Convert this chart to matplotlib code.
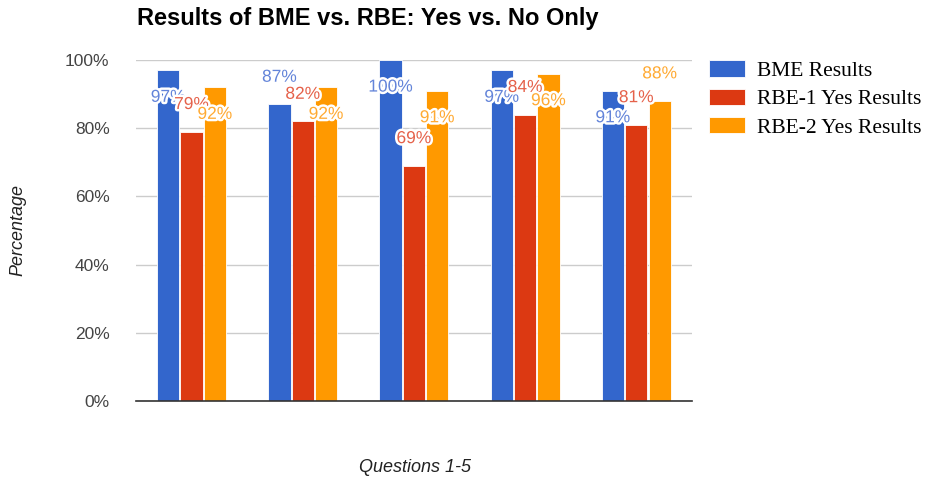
import numpy as np
import matplotlib.pyplot as plt
import matplotlib.patheffects as pe

questions = ["Q1", "Q2", "Q3", "Q4", "Q5"]
series = ["BME Results", "RBE-1 Yes Results", "RBE-2 Yes Results"]
bme = [97, 87, 100, 97, 91]
rbe1 = [79, 82, 69, 84, 81]
rbe2 = [92, 92, 91, 96, 88]

colors = ["#3366CC", "#DC3912", "#FF9900"]
label_colors = ["#6384D9", "#E5614A", "#FFAA33"]
# where each value label sits: -1 inside the bar top, +1 above the bar
placement = [[-1, 1, -1, -1, -1],
             [1, 1, 1, 1, 1],
             [-1, -1, -1, -1, 1]]

fig = plt.figure(figsize=(9.25, 4.8), dpi=100)
ax = fig.add_axes([0.147, 0.1646, 0.601, 0.7104])

x = np.arange(len(questions))
width = 0.2
step = 0.21
halo = [pe.withStroke(linewidth=3.5, foreground="white")]

for i, vals in enumerate([bme, rbe1, rbe2]):
    pos = x + (i - 1) * step
    ax.bar(pos, vals, width, color=colors[i], edgecolor="white", linewidth=0.6,
           label=series[i], zorder=3)
    for j, v in enumerate(vals):
        ax.annotate(f"{v}%", (pos[j], v), xytext=(0, 19.5 * placement[i][j]),
                    textcoords="offset points", ha="center", va="center",
                    fontsize=12.5, family="Liberation Sans", color=label_colors[i],
                    path_effects=halo, zorder=5)

ax.set_xlim(-0.5, 4.5)
ax.set_ylim(0, 100)
ax.set_yticks(range(0, 101, 20))
ax.set_yticklabels([f"{t}%" for t in range(0, 101, 20)], family="Liberation Sans",
                   fontsize=12.5, color="#444444")
ax.set_xticks([])
ax.tick_params(axis="y", length=0, pad=19)
ax.grid(axis="y", color="#cccccc", linewidth=1, zorder=0)
for s in ["top", "right", "left"]:
    ax.spines[s].set_visible(False)
ax.spines["bottom"].set_color("#333333")
ax.spines["bottom"].set_linewidth(1.2)
ax.spines["bottom"].set_zorder(4)

ax.set_ylabel("Percentage", family="Liberation Sans", style="italic",
              fontsize=13, color="#222222")
ax.yaxis.set_label_coords(-0.212, 0.5)
ax.set_xlabel("Questions 1-5", family="Liberation Sans", style="italic",
              fontsize=13, color="#222222")
ax.xaxis.set_label_coords(0.502, -0.196)
ax.xaxis.label.set_va("center")
ax.yaxis.label.set_va("center")

fig.text(0.148, 0.9625, "Results of BME vs. RBE: Yes vs. No Only", family="Liberation Sans",
         fontweight="bold", fontsize=17, va="center", ha="left", color="#000000")

leg = ax.legend(loc="upper left", bbox_to_anchor=(1.016, 1.025), borderaxespad=0,
                frameon=False, prop={"family": "Liberation Serif", "size": 15.5},
                handlelength=1.65, handleheight=0.8, handletextpad=0.55,
                labelspacing=0.36)
for h in leg.legend_handles:
    h.set_edgecolor("white")

fig.savefig("out.png", dpi=100)
